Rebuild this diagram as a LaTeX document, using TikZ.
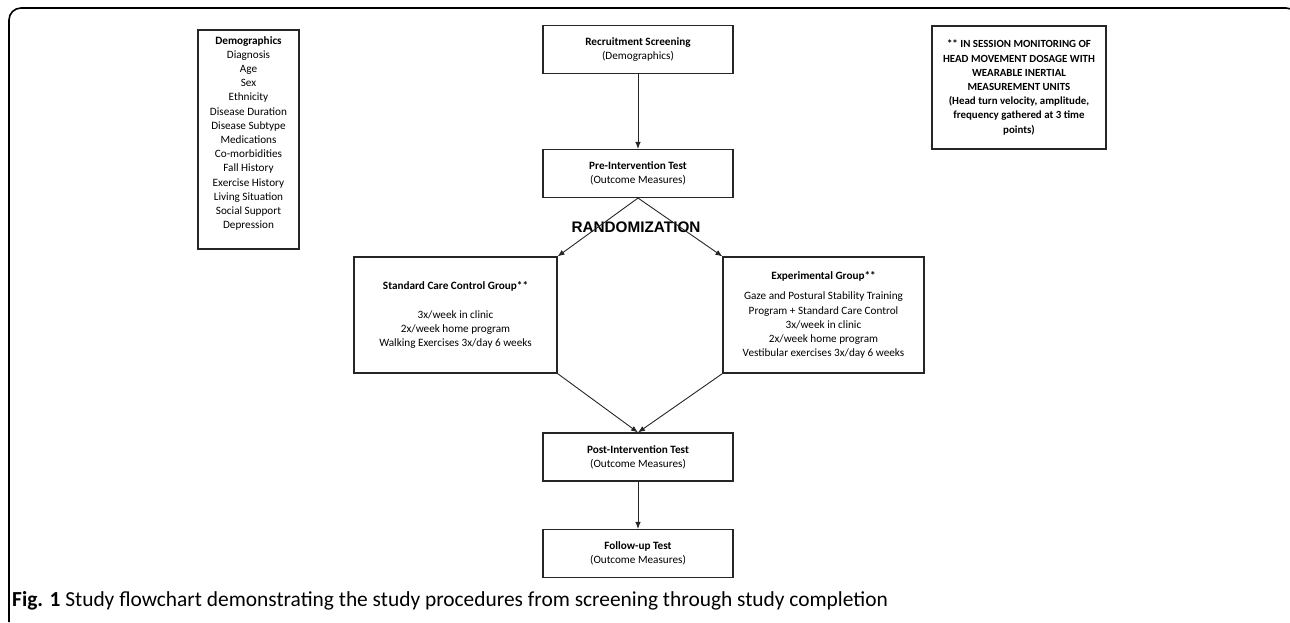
\documentclass[tikz,border=0pt]{standalone}
\usepackage{fontspec}
\setmainfont{Carlito}
\newfontfamily\randfont{Liberation Sans}
\usetikzlibrary{arrows.meta}

\tikzset{
    box/.style={
        draw=black!85,
        line width=1.1pt,
        align=center,
        inner sep=0pt,
        font=\fontsize{11.2}{14.2}\selectfont
    },
    flow/.style={
        draw=black!85,
        line width=0.9pt,
        -{Latex[length=7pt,width=5.5pt]}
    }
}

\begin{document}
\begin{tikzpicture}[x=1pt, y=-1pt]

% Geometry (pixel grid, y pointing down)
\def\midX{638}
\def\flowW{190}
\def\flowH{48}
\def\groupH{116}

% Canvas
\useasboundingbox (0,0) rectangle (1290,622);

% Frame round the figure
\draw[line width=1.6pt, rounded corners=12pt]
    (9,622) -- (9,8) -- (1298,8) -- (1298,40);

% Main flow boxes
\node[box, minimum width=\flowW, minimum height=\flowH] (recruit) at (\midX,49.5)
    {\textbf{Recruitment Screening}\\(Demographics)};
\node[box, minimum width=\flowW, minimum height=\flowH] (pre) at (\midX,173.5)
    {\textbf{Pre-Intervention Test}\\(Outcome Measures)};
\node[box, minimum width=\flowW, minimum height=\flowH] (post) at (\midX,457)
    {\textbf{Post-Intervention Test}\\(Outcome Measures)};
\node[box, minimum width=\flowW, minimum height=\flowH] (follow) at (\midX,553.5)
    {\textbf{Follow-up Test}\\(Outcome Measures)};

% Side boxes
\node[box, minimum width=101, minimum height=219] (demo) at (248.5,139.5)
    {\textbf{Demographics}\\Diagnosis\\Age\\Sex\\Ethnicity\\Disease Duration\\
     Disease Subtype\\Medications\\Co-morbidities\\Fall History\\Exercise History\\
     Living Situation\\Social Support\\Depression\\\mbox{}};
\node[box, minimum width=174, minimum height=123, font=\bfseries\fontsize{10.9}{14.2}\selectfont]
    (imu) at (1019,87.5)
    {** IN SESSION MONITORING OF\\HEAD MOVEMENT DOSAGE WITH\\WEARABLE INERTIAL\\
     MEASUREMENT UNITS\\(Head turn velocity, amplitude,\\frequency gathered at 3 time\\points)};

% Group boxes
\node[box, minimum width=203, minimum height=\groupH] (ctrl) at (455.5,315)
    {\textbf{Standard Care Control Group**}\\[14.2pt]3x/week in clinic\\
     2x/week home program\\Walking Exercises 3x/day 6 weeks};
\node[box, minimum width=201, minimum height=\groupH] (exp) at (823.5,315)
    {\textbf{Experimental Group**}\\[6pt]Gaze and Postural Stability Training\\
     Program + Standard Care Control\\3x/week in clinic\\2x/week home program\\
     Vestibular exercises 3x/day 6 weeks};

% Randomization label
\node[font=\randfont\bfseries\fontsize{15.3}{18}\selectfont] (rand) at (636,227)
    {RANDOMIZATION};

% Arrows
\draw[flow] (recruit) -- (pre);
\draw[flow] (pre.south) -- (ctrl.north east);
\draw[flow] (pre.south) -- (exp.north west);
\draw[flow] (ctrl.south east) -- (post.north);
\draw[flow] (exp.south west) -- (post.north);
\draw[flow] (post) -- (follow);

% Caption
\node[anchor=west, inner sep=0pt, font=\fontsize{21.4}{24}\selectfont] (caption) at (12,601)
    {\textbf{Fig. 1} Study flowchart demonstrating the study procedures from screening through study completion};

\end{tikzpicture}
\end{document}
